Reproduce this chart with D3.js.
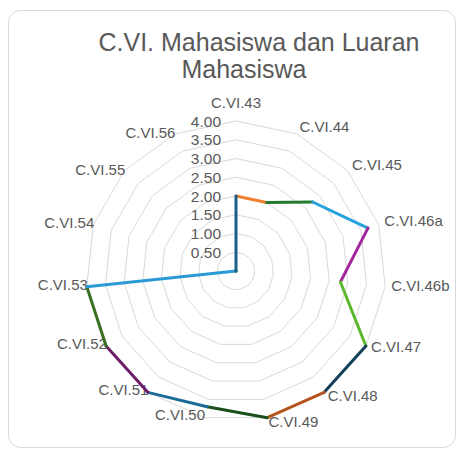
<!DOCTYPE html>
<html><head><meta charset="utf-8">
<script src="https://cdn.jsdelivr.net/npm/d3@7/dist/d3.min.js"></script>
<style>html,body{margin:0;padding:0;background:#fff;}svg{display:block;}</style>
</head><body><div id="chart"></div>
<script>
const categories = ["C.VI.43","C.VI.44","C.VI.45","C.VI.46a","C.VI.46b","C.VI.47","C.VI.48","C.VI.49","C.VI.50","C.VI.51","C.VI.52","C.VI.53","C.VI.54","C.VI.55","C.VI.56"];
const values = [2.0, 2.0, 2.75, 3.7, 2.8, 4.0, 4.0, 4.0, 3.7, 4.0, 4.0, 4.0, 0, 0, 0];
const pointColors = ["#1a5f8a","#ef7f2f","#237a2e","#26a3dc","#a3289e","#5bb82d","#123f5a","#b6541d","#1c4f1e","#1b6d98","#6c1e68","#3a6e20","#2a9ad6","#4aa83a","#7a4aa0"];
const tickValues = [0, 0.5, 1, 1.5, 2, 2.5, 3, 3.5, 4];
const tickLabels = ["-","0.50","1.00","1.50","2.00","2.50","3.00","3.50","4.00"];
const titleLines = ["C.VI. Mahasiswa dan Luaran","Mahasiswa"];

const W = 459, H = 450, cx = 236, cy = 271, R = 150;
const FONT = "Liberation Sans, Arial, Helvetica, sans-serif";
const svg = d3.select("#chart").append("svg").attr("width", W).attr("height", H);
svg.append("rect").attr("x", 8.5).attr("y", 10.5).attr("width", 447).attr("height", 437)
  .attr("rx", 12).attr("fill", "#fff").attr("stroke", "#d9d9d9");

svg.append("text").attr("x", 259).attr("y", 51).attr("text-anchor","middle")
  .attr("font-family", FONT).attr("font-size", 25).attr("fill","#595959").text(titleLines[0]);
svg.append("text").attr("x", 244).attr("y", 78).attr("text-anchor","middle")
  .attr("font-family", FONT).attr("font-size", 25).attr("fill","#595959").text(titleLines[1]);

const r = d3.scaleLinear().domain([0, 4]).range([0, R]);
const n = categories.length;
const ang = d3.scalePoint().domain(d3.range(n + 1)).range([0, 2 * Math.PI]);
const g = svg.append("g").attr("transform", `translate(${cx},${cy})`);
const px = (i, v) => r(v) * Math.sin(ang(i % n));
const py = (i, v) => -r(v) * Math.cos(ang(i % n));

// grid rings
const ring = d3.line();
tickValues.filter(t => t > 0).forEach(t => {
  const pts = d3.range(n + 1).map(i => [px(i, t), py(i, t)]);
  g.append("path").attr("d", ring(pts)).attr("fill","none").attr("stroke","#d9d9d9").attr("stroke-width",1);
});

// tick labels
g.selectAll("text.tick").data(tickValues).join("text").attr("class","tick")
  .attr("x", -15).attr("y", d => -r(d)).attr("dy","0.36em").attr("text-anchor","end")
  .attr("font-family", FONT).attr("font-size", 15.5).attr("fill","#595959")
  .text((d, i) => tickLabels[i]);

// category labels
const labR = i => (Math.sin(ang(i)) > 0.05 ? 156 : 149);
g.selectAll("text.cat").data(categories).join("text").attr("class","cat")
  .attr("x", (d, i) => i === 0 ? 0 : labR(i) * Math.sin(ang(i)))
  .attr("y", (d, i) => i === 0 ? -163 : -labR(i) * Math.cos(ang(i)) - 2)
  .attr("dy", (d, i) => i === 0 ? "0" : "0.36em")
  .attr("text-anchor", (d, i) => {
    const s = Math.sin(ang(i));
    if (i === 0) return "middle";
    return s > 0.05 ? "start" : "end";
  })
  .attr("font-family", FONT).attr("font-size", 15).attr("fill","#595959")
  .text(d => d);

// segments, each coloured by its end point
const segs = d3.range(n).map(i => ({a: i, b: (i + 1) % n, color: pointColors[(i + 1) % n]}));
g.selectAll("line.seg").data(segs).join("line").attr("class","seg")
  .attr("x1", d => px(d.a, values[d.a])).attr("y1", d => py(d.a, values[d.a]))
  .attr("x2", d => px(d.b, values[d.b])).attr("y2", d => py(d.b, values[d.b]))
  .attr("stroke", d => d.color).attr("stroke-width", 3).attr("stroke-linecap","round");
</script></body></html>
